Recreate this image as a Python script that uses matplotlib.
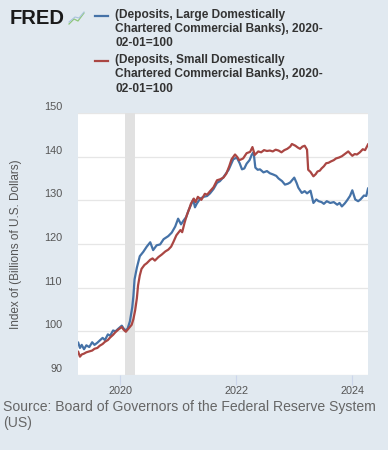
import matplotlib
matplotlib.use("Agg")
import matplotlib.pyplot as plt
from matplotlib.lines import Line2D
from matplotlib.transforms import ScaledTranslation

plt.rcParams['font.family'] = ['Liberation Sans', 'DejaVu Sans']

# =====================================================================================================================
# DATA (decimal years, index 2020-02-01=100)
# =====================================================================================================================
years_large = [2019.28, 2019.31, 2019.34, 2019.38, 2019.42, 2019.47, 2019.52, 2019.56, 2019.61, 2019.65,
               2019.70, 2019.74, 2019.79, 2019.83, 2019.88, 2019.92, 2019.97, 2020.03, 2020.06, 2020.09,
               2020.13, 2020.17, 2020.21, 2020.23, 2020.25, 2020.29, 2020.34, 2020.40, 2020.46, 2020.52,
               2020.57, 2020.63, 2020.69, 2020.75, 2020.83, 2020.89, 2020.95, 2021.00, 2021.05, 2021.09,
               2021.14, 2021.18, 2021.22, 2021.26, 2021.29, 2021.32, 2021.38, 2021.44, 2021.50, 2021.55,
               2021.61, 2021.67, 2021.72, 2021.78, 2021.87, 2021.95, 2022.01, 2022.06, 2022.10, 2022.14,
               2022.18, 2022.23, 2022.27, 2022.30, 2022.33, 2022.37, 2022.41, 2022.47, 2022.53, 2022.58,
               2022.64, 2022.69, 2022.73, 2022.79, 2022.84, 2022.89, 2022.93, 2023.00, 2023.04, 2023.07,
               2023.13, 2023.18, 2023.22, 2023.28, 2023.33, 2023.38, 2023.42, 2023.47, 2023.51, 2023.56,
               2023.62, 2023.68, 2023.74, 2023.78, 2023.82, 2023.87, 2023.91, 2023.96, 2024.00, 2024.05,
               2024.10, 2024.14, 2024.20, 2024.24, 2024.27]
large = [97.4, 96.2, 96.9, 95.9, 96.8, 96.4, 97.5, 96.9, 97.4, 97.9,
         98.5, 98.0, 99.3, 99.0, 100.2, 100.0, 100.6, 101.3, 100.7, 100.2,
         100.6, 102.3, 105.5, 108.1, 111.9, 114.6, 117.2, 118.2, 119.4, 120.4,
         118.6, 119.7, 119.9, 121.1, 121.8, 122.6, 124.0, 125.8, 124.5, 125.3,
         126.2, 127.7, 128.9, 130.2, 128.4, 129.2, 130.4, 130.8, 131.0, 131.6,
         132.6, 134.0, 134.4, 135.3, 137.0, 139.4, 139.8, 138.5, 137.1, 137.3,
         138.4, 139.2, 140.5, 141.0, 137.5, 137.0, 137.1, 136.4, 136.7, 136.2,
         135.9, 135.6, 135.0, 134.4, 133.6, 133.8, 134.1, 135.2, 134.0, 132.9,
         131.7, 132.1, 131.6, 132.2, 129.4, 130.2, 129.8, 129.6, 129.2, 129.8,
         129.4, 129.6, 129.0, 129.4, 128.6, 129.3, 130.0, 131.0, 132.3, 130.2,
         129.8, 130.2, 131.1, 131.0, 132.7]

years_small = [2019.28, 2019.31, 2019.34, 2019.38, 2019.42, 2019.47, 2019.52, 2019.56, 2019.61, 2019.65,
               2019.70, 2019.74, 2019.79, 2019.83, 2019.88, 2019.92, 2019.97, 2020.03, 2020.06, 2020.10,
               2020.15, 2020.20, 2020.23, 2020.26, 2020.29, 2020.31, 2020.34, 2020.37, 2020.42, 2020.46,
               2020.52, 2020.56, 2020.60, 2020.66, 2020.72, 2020.78, 2020.83, 2020.88, 2020.92, 2020.97,
               2021.04, 2021.07, 2021.11, 2021.15, 2021.19, 2021.22, 2021.27, 2021.30, 2021.34, 2021.40,
               2021.46, 2021.50, 2021.55, 2021.61, 2021.67, 2021.72, 2021.78, 2021.83, 2021.88, 2021.92,
               2021.98, 2022.02, 2022.05, 2022.09, 2022.12, 2022.18, 2022.24, 2022.28, 2022.32, 2022.38,
               2022.43, 2022.48, 2022.53, 2022.58, 2022.63, 2022.68, 2022.73, 2022.78, 2022.83, 2022.88,
               2022.93, 2022.96, 2023.02, 2023.06, 2023.10, 2023.14, 2023.18, 2023.22, 2023.24, 2023.28,
               2023.33, 2023.37, 2023.40, 2023.44, 2023.47, 2023.51, 2023.55, 2023.59, 2023.63, 2023.68,
               2023.72, 2023.77, 2023.82, 2023.87, 2023.93, 2023.97, 2024.00, 2024.04, 2024.08, 2024.13,
               2024.18, 2024.22, 2024.27]
small = [95.3, 94.2, 94.7, 94.9, 95.2, 95.4, 95.6, 96.0, 96.2, 96.7,
         97.1, 97.6, 98.0, 98.6, 99.2, 99.8, 100.4, 101.0, 100.4, 99.9,
         100.7, 101.5, 102.8, 104.8, 107.6, 110.5, 112.8, 114.3, 115.2, 115.6,
         116.4, 116.7, 116.2, 117.0, 117.6, 118.3, 118.7, 119.4, 120.5, 122.0,
         123.2, 122.7, 124.8, 126.6, 128.0, 129.2, 130.4, 129.6, 130.8, 130.1,
         131.5, 131.3, 132.1, 133.0, 134.6, 134.8, 135.2, 136.1, 137.8, 139.4,
         140.5, 139.9, 139.2, 139.4, 139.6, 140.8, 141.1, 142.2, 140.4, 141.2,
         141.0, 141.5, 141.3, 141.4, 141.2, 141.6, 141.4, 141.0, 141.5, 141.8,
         142.3, 142.9, 142.5, 142.1, 141.8, 142.3, 142.5, 141.6, 137.0, 136.5,
         135.5, 136.0, 136.6, 136.8, 137.3, 137.8, 138.5, 138.6, 138.9, 139.2,
         139.6, 139.8, 140.1, 140.6, 141.2, 140.6, 140.2, 140.6, 140.5, 141.0,
         141.7, 141.5, 142.8]

recession = (2020.09, 2020.26)
label_large = "(Deposits, Large Domestically\nChartered Commercial Banks), 2020-\n02-01=100"
label_small = "(Deposits, Small Domestically\nChartered Commercial Banks), 2020-\n02-01=100"
source = "Source: Board of Governors of the Federal Reserve System\n(US)"

# =====================================================================================================================
# MATPLOTLIB
# =====================================================================================================================
bg = '#e1e9f0'
blue = '#4572a7'
red = '#aa4643'

fig = plt.figure(figsize=(3.88, 4.5), dpi=100, facecolor=bg)
ax = fig.add_axes([78 / 388, 75 / 450, 290 / 388, 262 / 450])
ax.set_facecolor('white')

ax.axvspan(recession[0], recession[1], color='#e1e1e1', lw=0, zorder=1)
ax.plot(years_large, large, color=blue, lw=1.6, zorder=3)
ax.plot(years_small, small, color=red, lw=1.6, zorder=3)

ax.set_xlim(2019.276, 2024.27)
ax.set_ylim(90, 150)
ax.set_yticks(range(90, 151, 10))
ax.set_xticks([2020, 2022, 2024])
ax.set_xticklabels(["2020", "2022", "2024"])
ax.grid(axis='y', color='#e6e6e6', lw=0.9)
ax.set_axisbelow(True)
for s in ax.spines.values():
    s.set_visible(False)

ax.tick_params(axis='y', length=0, pad=11.5, labelsize=7.8, labelcolor='#555555')
ax.tick_params(axis='x', length=7, width=0.8, color='#ccd6eb', pad=1, labelsize=7.8, labelcolor='#555555')
offset = ScaledTranslation(0, 5 / 72, fig.dpi_scale_trans)
for lab in ax.get_yticklabels():
    lab.set_transform(lab.get_transform() + offset)

ax.set_ylabel("Index of (Billions of U.S. Dollars)", fontsize=8.5, color='#555555')
ax.yaxis.set_label_coords(-0.193, 0.5)

# FRED logo
fig.text(10 / 388, 1 - 19 / 450, "FRED", fontsize=14.5, fontweight='heavy', color='#1a1a1a', va='center')
fig.add_artist(Line2D([69 / 388, 74 / 388, 78 / 388, 84 / 388], [1 - 24 / 450, 1 - 19 / 450, 1 - 21 / 450, 1 - 13 / 450],
                      color='#8fc77a', lw=0.9))
fig.add_artist(Line2D([69 / 388, 75 / 388, 79 / 388, 84 / 388], [1 - 22 / 450, 1 - 17 / 450, 1 - 18 / 450, 1 - 12 / 450],
                      color='#a9c4dd', lw=0.8))

# legend
fig.add_artist(Line2D([95 / 388, 108 / 388], [1 - 16 / 450, 1 - 16 / 450], color=blue, lw=1.6))
fig.add_artist(Line2D([95 / 388, 108 / 388], [1 - 61 / 450, 1 - 61 / 450], color=red, lw=1.6))
fig.text(115 / 388, 1 - 9 / 450, label_large, fontsize=8.6, fontweight='bold', color='#333333',
         va='top', linespacing=1.25)
fig.text(115 / 388, 1 - 54 / 450, label_small, fontsize=8.6, fontweight='bold', color='#333333',
         va='top', linespacing=1.25)

fig.text(3 / 388, 1 - 400 / 450, source, fontsize=10.1, color='#666666', va='top', linespacing=1.2)

fig.savefig("out.png", dpi=100, facecolor=bg)
